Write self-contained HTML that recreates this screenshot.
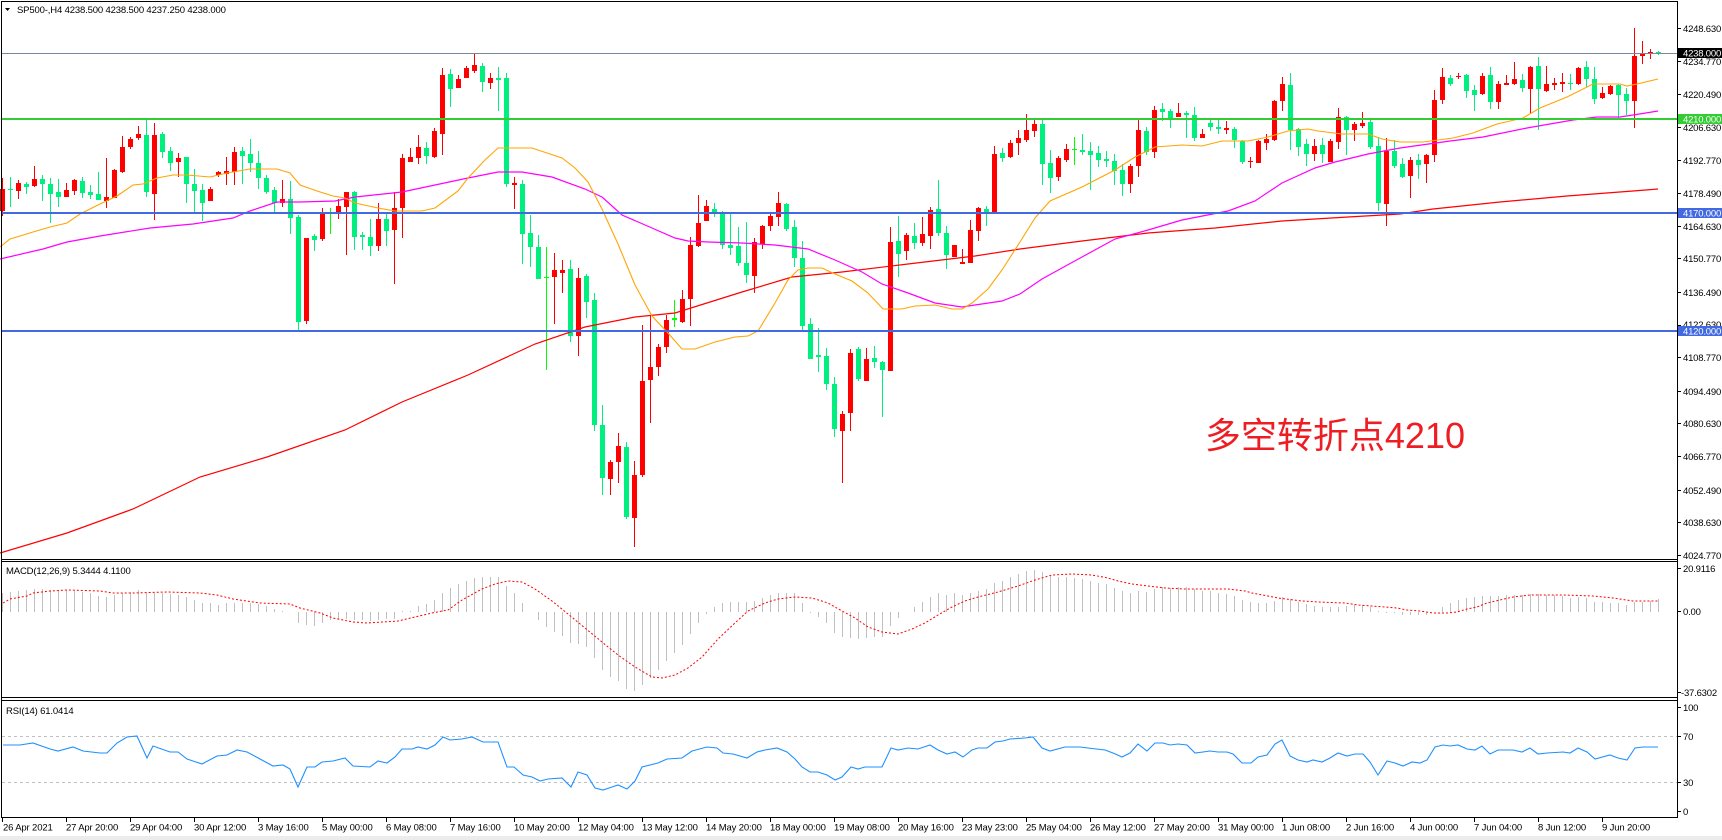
<!DOCTYPE html>
<html><head><meta charset="utf-8"><style>
html,body{margin:0;padding:0;background:#fff;}
svg{display:block;}
.t{font-family:"Liberation Sans","Noto Sans CJK SC",sans-serif;font-size:9.5px;fill:#000;letter-spacing:-0.15px;}
.p{font-family:"Liberation Sans",sans-serif;font-size:9.5px;fill:#000;letter-spacing:-0.2px;}
.w{font-family:"Liberation Sans",sans-serif;font-size:9.5px;fill:#fff;letter-spacing:-0.2px;}
</style></head><body>
<svg width="1722" height="840" viewBox="0 0 1722 840" xmlns="http://www.w3.org/2000/svg">
<rect x="0" y="0" width="1722" height="840" fill="#fff"/>
<rect x="0" y="836" width="1722" height="4" fill="#ececec"/>

<!-- candles -->
<g shape-rendering="crispEdges">
<path fill="#ff0000" d="M0 189h5v22h-5zM2 178h1v38h-1zM16 183h5v8h-5zM18 180h1v19h-1zM32 179h5v7h-5zM34 166h1v21h-1zM64 190h5v7h-5zM66 183h1v14h-1zM72 180h5v11h-5zM74 179h1v16h-1zM104 197h5v4h-5zM106 158h1v50h-1zM112 170h5v28h-5zM114 169h1v29h-1zM120 147h5v25h-5zM122 136h1v37h-1zM128 139h5v8h-5zM130 137h1v12h-1zM136 134h5v4h-5zM138 126h1v14h-1zM152 135h5v59h-5zM154 123h1v97h-1zM176 158h5v4h-5zM178 153h1v24h-1zM208 189h5v12h-5zM210 187h1v14h-1zM216 172h5v3h-5zM218 171h1v6h-1zM224 171h5v3h-5zM226 157h1v28h-1zM232 152h5v20h-5zM234 147h1v38h-1zM280 199h5v4h-5zM282 180h1v27h-1zM304 238h5v83h-5zM306 238h1v86h-1zM320 214h5v25h-5zM322 208h1v33h-1zM336 206h5v6h-5zM338 199h1v20h-1zM344 192h5v15h-5zM346 192h1v63h-1zM376 219h5v27h-5zM378 203h1v48h-1zM392 208h5v22h-5zM394 192h1v92h-1zM400 158h5v50h-5zM402 154h1v84h-1zM408 157h5v5h-5zM410 148h1v14h-1zM416 147h5v11h-5zM418 135h1v29h-1zM432 131h5v26h-5zM434 128h1v30h-1zM440 75h5v59h-5zM442 68h1v87h-1zM456 79h5v9h-5zM458 75h1v13h-1zM464 68h5v10h-5zM466 66h1v12h-1zM472 65h5v6h-5zM474 54h1v19h-1zM488 78h5v5h-5zM490 73h1v16h-1zM512 183h5v2h-5zM514 177h1v32h-1zM552 270h5v7h-5zM554 253h1v71h-1zM560 270h5v3h-5zM562 260h1v33h-1zM576 278h5v58h-5zM578 268h1v88h-1zM608 462h5v17h-5zM610 460h1v35h-1zM616 446h5v16h-5zM618 433h1v50h-1zM632 475h5v43h-5zM634 461h1v86h-1zM640 381h5v94h-5zM642 325h1v152h-1zM648 367h5v13h-5zM650 316h1v107h-1zM656 347h5v20h-5zM658 344h1v32h-1zM664 320h5v27h-5zM666 315h1v38h-1zM680 299h5v23h-5zM682 290h1v33h-1zM688 245h5v54h-5zM690 237h1v89h-1zM696 223h5v23h-5zM698 195h1v52h-1zM704 206h5v15h-5zM706 200h1v21h-1zM752 242h5v34h-5zM754 238h1v55h-1zM760 226h5v18h-5zM762 225h1v24h-1zM768 216h5v10h-5zM770 213h1v18h-1zM776 203h5v14h-5zM778 192h1v34h-1zM840 414h5v17h-5zM842 411h1v72h-1zM848 353h5v60h-5zM850 349h1v82h-1zM864 359h5v22h-5zM866 348h1v33h-1zM888 242h5v129h-5zM890 227h1v144h-1zM904 235h5v16h-5zM906 233h1v27h-1zM920 234h5v9h-5zM922 217h1v29h-1zM928 210h5v26h-5zM930 207h1v42h-1zM952 245h5v12h-5zM954 245h1v12h-1zM960 262h5v2h-5zM962 249h1v15h-1zM968 230h5v33h-5zM970 220h1v43h-1zM976 208h5v23h-5zM978 207h1v34h-1zM992 154h5v58h-5zM994 146h1v66h-1zM1008 143h5v14h-5zM1010 140h1v18h-1zM1016 138h5v5h-5zM1018 130h1v25h-1zM1024 130h5v10h-5zM1026 114h1v28h-1zM1032 124h5v7h-5zM1034 120h1v17h-1zM1056 158h5v19h-5zM1058 156h1v25h-1zM1064 149h5v11h-5zM1066 144h1v18h-1zM1128 166h5v18h-5zM1130 164h1v29h-1zM1136 130h5v36h-5zM1138 120h1v57h-1zM1152 110h5v42h-5zM1154 106h1v52h-1zM1176 113h5v4h-5zM1178 103h1v14h-1zM1200 134h5v4h-5zM1202 129h1v9h-1zM1224 128h5v2h-5zM1226 121h1v13h-1zM1248 161h5v1h-5zM1250 157h1v11h-1zM1256 141h5v22h-5zM1258 140h1v23h-1zM1264 139h5v4h-5zM1266 134h1v16h-1zM1272 101h5v39h-5zM1274 100h1v41h-1zM1280 84h5v17h-5zM1282 77h1v34h-1zM1312 146h5v8h-5zM1314 139h1v22h-1zM1328 141h5v21h-5zM1330 139h1v23h-1zM1336 117h5v25h-5zM1338 108h1v41h-1zM1352 124h5v6h-5zM1354 122h1v19h-1zM1360 123h5v3h-5zM1362 112h1v16h-1zM1384 151h5v53h-5zM1386 138h1v88h-1zM1408 160h5v16h-5zM1410 157h1v41h-1zM1424 155h5v9h-5zM1426 154h1v29h-1zM1432 100h5v55h-5zM1434 90h1v72h-1zM1440 77h5v23h-5zM1442 68h1v36h-1zM1456 76h5v1h-5zM1458 73h1v6h-1zM1480 76h5v18h-5zM1482 73h1v22h-1zM1496 84h5v18h-5zM1498 81h1v28h-1zM1504 83h5v2h-5zM1506 75h1v10h-1zM1512 79h5v5h-5zM1514 62h1v23h-1zM1528 67h5v22h-5zM1530 66h1v48h-1zM1544 84h5v7h-5zM1546 66h1v26h-1zM1552 83h5v2h-5zM1554 78h1v12h-1zM1560 82h5v2h-5zM1562 73h1v19h-1zM1576 68h5v16h-5zM1578 67h1v18h-1zM1600 93h5v5h-5zM1602 87h1v12h-1zM1608 86h5v8h-5zM1610 85h1v10h-1zM1632 56h5v45h-5zM1634 28h1v100h-1zM1640 54h5v2h-5zM1642 41h1v23h-1zM1648 52h5v2h-5zM1650 49h1v10h-1z"/>
<path fill="#00f07f" d="M8 189h5v1h-5zM10 177h1v30h-1zM24 184h5v3h-5zM26 182h1v12h-1zM40 179h5v5h-5zM42 175h1v26h-1zM48 184h5v10h-5zM50 178h1v45h-1zM56 192h5v5h-5zM58 179h1v28h-1zM80 181h5v12h-5zM82 177h1v21h-1zM88 192h5v3h-5zM90 185h1v14h-1zM96 194h5v6h-5zM98 172h1v28h-1zM144 135h5v57h-5zM146 120h1v77h-1zM160 134h5v18h-5zM162 132h1v26h-1zM168 151h5v12h-5zM170 147h1v24h-1zM184 157h5v27h-5zM186 157h1v46h-1zM192 184h5v7h-5zM194 169h1v43h-1zM200 190h5v13h-5zM202 184h1v37h-1zM240 151h5v5h-5zM242 147h1v37h-1zM248 154h5v9h-5zM250 139h1v33h-1zM256 163h5v15h-5zM258 151h1v38h-1zM264 178h5v14h-5zM266 175h1v19h-1zM272 190h5v13h-5zM274 187h1v25h-1zM288 199h5v19h-5zM290 181h1v53h-1zM296 217h5v105h-5zM298 215h1v115h-1zM312 236h5v4h-5zM314 234h1v17h-1zM352 192h5v45h-5zM354 191h1v59h-1zM360 235h5v2h-5zM362 232h1v18h-1zM368 237h5v9h-5zM370 219h1v37h-1zM384 219h5v12h-5zM386 214h1v32h-1zM424 148h5v8h-5zM426 142h1v22h-1zM448 74h5v15h-5zM450 69h1v38h-1zM480 66h5v16h-5zM482 63h1v29h-1zM496 78h5v2h-5zM498 67h1v44h-1zM504 78h5v106h-5zM506 73h1v114h-1zM520 184h5v50h-5zM522 180h1v84h-1zM528 233h5v14h-5zM530 215h1v52h-1zM536 247h5v32h-5zM538 235h1v44h-1zM568 269h5v67h-5zM570 260h1v82h-1zM584 276h5v26h-5zM586 274h1v44h-1zM592 300h5v125h-5zM594 293h1v138h-1zM600 425h5v53h-5zM602 405h1v90h-1zM624 447h5v70h-5zM626 442h1v77h-1zM712 209h5v3h-5zM714 203h1v14h-1zM720 213h5v32h-5zM722 211h1v38h-1zM728 245h5v3h-5zM730 213h1v42h-1zM736 246h5v17h-5zM738 227h1v39h-1zM744 263h5v12h-5zM746 222h1v61h-1zM784 204h5v25h-5zM786 203h1v28h-1zM792 227h5v31h-5zM794 220h1v47h-1zM800 258h5v68h-5zM802 241h1v89h-1zM808 324h5v35h-5zM810 318h1v41h-1zM816 355h5v2h-5zM818 328h1v44h-1zM824 356h5v28h-5zM826 348h1v42h-1zM832 384h5v45h-5zM834 377h1v60h-1zM856 349h5v30h-5zM858 347h1v34h-1zM872 358h5v4h-5zM874 346h1v22h-1zM880 362h5v8h-5zM882 361h1v56h-1zM896 241h5v13h-5zM898 216h1v61h-1zM912 236h5v7h-5zM914 223h1v26h-1zM936 209h5v24h-5zM938 180h1v56h-1zM944 233h5v22h-5zM946 226h1v43h-1zM984 209h5v3h-5zM986 206h1v20h-1zM1000 153h5v5h-5zM1002 148h1v14h-1zM1040 124h5v40h-5zM1042 120h1v65h-1zM1048 163h5v15h-5zM1050 150h1v43h-1zM1080 150h5v2h-5zM1082 134h1v21h-1zM1088 151h5v4h-5zM1090 142h1v48h-1zM1096 153h5v7h-5zM1098 146h1v21h-1zM1104 159h5v2h-5zM1106 151h1v16h-1zM1112 161h5v10h-5zM1114 154h1v31h-1zM1120 170h5v14h-5zM1122 164h1v32h-1zM1144 131h5v21h-5zM1146 127h1v28h-1zM1160 109h5v3h-5zM1162 103h1v18h-1zM1168 111h5v8h-5zM1170 109h1v19h-1zM1184 113h5v2h-5zM1186 111h1v27h-1zM1192 115h5v23h-5zM1194 107h1v34h-1zM1208 123h5v4h-5zM1210 120h1v11h-1zM1216 127h5v2h-5zM1218 120h1v14h-1zM1232 129h5v11h-5zM1234 127h1v21h-1zM1240 141h5v21h-5zM1242 140h1v24h-1zM1288 85h5v45h-5zM1290 73h1v77h-1zM1296 129h5v18h-5zM1298 128h1v28h-1zM1304 144h5v10h-5zM1306 139h1v27h-1zM1320 145h5v9h-5zM1322 138h1v25h-1zM1344 117h5v13h-5zM1346 116h1v39h-1zM1368 122h5v25h-5zM1370 120h1v29h-1zM1376 146h5v57h-5zM1378 137h1v74h-1zM1392 151h5v15h-5zM1394 140h1v28h-1zM1400 164h5v13h-5zM1402 158h1v20h-1zM1416 160h5v5h-5zM1418 154h1v25h-1zM1448 78h5v6h-5zM1450 75h1v11h-1zM1464 75h5v16h-5zM1466 74h1v24h-1zM1472 90h5v5h-5zM1474 85h1v26h-1zM1488 75h5v27h-5zM1490 67h1v42h-1zM1520 80h5v8h-5zM1522 74h1v18h-1zM1536 66h5v23h-5zM1538 57h1v73h-1zM1568 83h5v1h-5zM1570 74h1v16h-1zM1584 67h5v12h-5zM1586 61h1v26h-1zM1592 79h5v20h-5zM1594 67h1v37h-1zM1616 85h5v10h-5zM1618 84h1v34h-1zM1624 94h5v7h-5zM1626 88h1v27h-1zM1656 52h5v1h-5zM1658 51h1v4h-1z"/>
<path fill="#00ff00" d="M328 213h5v1h-5zM330 208h1v26h-1zM544 277h5v1h-5zM546 247h1v123h-1zM672 318h5v2h-5zM674 300h1v27h-1zM1072 149h5v1h-5zM1074 137h1v28h-1z"/>
</g>

<!-- moving averages -->
<polyline fill="none" stroke="#ff0000" stroke-width="1.2" points="0,553 67,533 133,509 200,477 267,457 345,430 402,402 468,375 535,344 585,327 635,317 675,313 742,292 792,277 842,272 908,264 975,256 1020,249 1082,241 1148,233 1215,228 1282,221 1348,217 1400,214 1433,209 1500,202 1567,196 1633,191 1658,189"/>
<polyline fill="none" stroke="#ff00ff" stroke-width="1.2" points="0,259 43,249 67,242 100,236 150,228 193,224 233,218 250,211 277,202 300,202 335,201 355,197 402,192 435,185 468,178 498,172 522,172 552,177 585,189 602,197 622,215 652,228 675,238 688,241 708,242 742,243 775,245 808,249 835,260 862,272 882,284 908,293 935,303 962,307 975,305 1002,301 1020,294 1042,279 1082,257 1115,239 1148,230 1182,220 1228,211 1255,201 1282,183 1315,168 1335,162 1368,154 1400,148 1450,141 1483,137 1527,128 1573,120 1597,117 1620,117 1633,115 1658,111"/>
<polyline fill="none" stroke="#ffa500" stroke-width="1.1" points="0,247 10,239 20,236 33,232 50,227 67,223 80,214 100,204 117,196 133,185 143,184 157,178 173,175 187,175 210,177 227,173 250,169 277,169 290,173 300,185 317,191 333,196 345,198 355,203 378,208 395,211 422,211 435,208 458,191 468,178 485,160 498,148 532,148 562,158 575,168 588,182 602,209 618,244 635,285 652,316 668,333 682,349 695,349 715,342 735,337 748,336 758,331 775,303 788,280 798,270 808,268 822,268 835,274 852,281 868,293 883,309 902,309 915,306 935,305 952,309 962,309 972,303 988,289 1002,270 1020,242 1035,218 1050,201 1082,187 1115,170 1135,157 1155,147 1182,145 1202,146 1222,141 1248,141 1268,137 1288,131 1308,129 1318,131 1342,134 1368,134 1382,139 1400,142 1423,142 1438,140 1453,138 1473,133 1497,124 1523,118 1540,108 1567,97 1593,84 1620,84 1627,86 1637,84 1658,79"/>

<!-- horizontal levels -->
<g shape-rendering="crispEdges">
<rect x="2" y="53" width="1675" height="1" fill="#778899"/>
<rect x="2" y="118" width="1675" height="2" fill="#32cd32"/>
<rect x="2" y="212" width="1675" height="2" fill="#4169e1"/>
<rect x="2" y="330" width="1675" height="2" fill="#4169e1"/>
</g>

<!-- annotation -->
<text x="1465" y="448" text-anchor="end" font-family="'Liberation Sans','Noto Sans CJK SC',sans-serif" font-size="36" fill="#ee1d24">多空转折点4210</text>

<!-- title -->
<polygon points="5,8 10,8 7.5,11" fill="#000"/>
<text x="17" y="13" class="t">SP500-,H4  4238.500 4238.500 4237.250 4238.000</text>

<!-- MACD -->
<path stroke="#c0c0c0" stroke-width="1" fill="none" shape-rendering="crispEdges" d="M2.5 612V593M10.5 612V592M18.5 612V591M26.5 612V590M34.5 612V589M42.5 612V589M50.5 612V590M58.5 612V590M66.5 612V590M74.5 612V591M82.5 612V592M90.5 612V593M98.5 612V596M106.5 612V597M114.5 612V595M122.5 612V593M130.5 612V592M138.5 612V590M146.5 612V593M154.5 612V593M162.5 612V593M170.5 612V594M178.5 612V595M186.5 612V597M194.5 612V600M202.5 612V603M210.5 612V603M218.5 612V605M226.5 612V603M234.5 612V603M242.5 612V603M250.5 612V603M258.5 612V604M266.5 612V606M274.5 612V609M282.5 612V611M298.5 612V623M306.5 612V625M314.5 612V626M322.5 612V623M330.5 612V620M338.5 612V619M346.5 612V619M354.5 612V620M362.5 612V620M370.5 612V621M378.5 612V620M386.5 612V619M394.5 612V619M402.5 612V611M410.5 612V611M418.5 612V606M426.5 612V604M434.5 612V600M442.5 612V593M450.5 612V588M458.5 612V584M466.5 612V581M474.5 612V578M482.5 612V577M490.5 612V577M498.5 612V577M506.5 612V586M514.5 612V593M522.5 612V603M538.5 612V620M546.5 612V627M554.5 612V632M562.5 612V636M570.5 612V643M578.5 612V644M586.5 612V647M594.5 612V658M602.5 612V670M610.5 612V677M618.5 612V681M626.5 612V689M634.5 612V691M642.5 612V685M650.5 612V678M658.5 612V670M666.5 612V661M674.5 612V653M682.5 612V645M690.5 612V634M698.5 612V623M706.5 612V614M714.5 612V607M722.5 612V603M730.5 612V602M738.5 612V602M746.5 612V602M754.5 612V601M762.5 612V598M770.5 612V595M778.5 612V593M786.5 612V593M794.5 612V593M802.5 612V603M810.5 612V613M818.5 612V617M826.5 612V623M834.5 612V633M842.5 612V637M850.5 612V638M858.5 612V639M866.5 612V638M874.5 612V637M882.5 612V637M890.5 612V626M898.5 612V618M914.5 612V607M922.5 612V602M930.5 612V597M938.5 612V593M946.5 612V595M954.5 612V593M962.5 612V595M970.5 612V593M978.5 612V591M986.5 612V589M994.5 612V583M1002.5 612V581M1010.5 612V577M1018.5 612V574M1026.5 612V571M1034.5 612V570M1042.5 612V572M1050.5 612V575M1058.5 612V577M1066.5 612V577M1074.5 612V578M1082.5 612V579M1090.5 612V581M1098.5 612V583M1106.5 612V584M1114.5 612V588M1122.5 612V591M1130.5 612V593M1138.5 612V591M1146.5 612V592M1154.5 612V589M1162.5 612V587M1170.5 612V588M1178.5 612V587M1186.5 612V587M1194.5 612V589M1202.5 612V591M1210.5 612V591M1218.5 612V593M1226.5 612V594M1234.5 612V596M1242.5 612V600M1250.5 612V602M1258.5 612V603M1266.5 612V603M1274.5 612V601M1282.5 612V597M1290.5 612V599M1298.5 612V602M1306.5 612V604M1314.5 612V606M1322.5 612V607M1330.5 612V607M1338.5 612V607M1346.5 612V606M1354.5 612V605M1362.5 612V605M1370.5 612V607M1378.5 612V611M1386.5 612V613M1394.5 612V613M1402.5 612V615M1410.5 612V615M1418.5 612V615M1426.5 612V615M1442.5 612V607M1450.5 612V603M1458.5 612V600M1466.5 612V598M1474.5 612V597M1482.5 612V596M1490.5 612V596M1498.5 612V596M1506.5 612V595M1514.5 612V595M1522.5 612V595M1530.5 612V594M1538.5 612V594M1546.5 612V595M1554.5 612V595M1562.5 612V596M1570.5 612V598M1578.5 612V597M1586.5 612V598M1594.5 612V602M1602.5 612V602M1610.5 612V603M1618.5 612V603M1626.5 612V605M1634.5 612V602M1642.5 612V602M1650.5 612V601M1658.5 612V599"/>
<polyline fill="none" stroke="#ff0000" stroke-width="1" stroke-dasharray="2,2" points="3,603 10,599 27,596 33,593 50,591 67,590 100,591 113,593 133,593 167,592 200,593 217,595 233,599 260,603 290,604 300,608 320,613 333,618 353,622 367,623 398,621 415,617 432,613 448,610 462,600 482,589 495,584 508,581 522,582 535,589 552,601 568,614 585,628 602,642 618,655 635,667 652,677 662,678 675,675 688,668 702,657 718,639 735,623 748,611 765,603 778,599 795,597 812,598 828,603 842,611 855,618 868,627 882,632 898,634 912,629 925,623 938,615 952,607 965,601 978,597 998,592 1018,586 1035,580 1052,575 1072,574 1092,575 1108,578 1118,581 1132,584 1148,586 1165,588 1185,589 1205,589 1228,589 1245,591 1252,593 1278,598 1302,601 1318,602 1345,603 1358,605 1385,607 1397,608 1407,610 1420,611 1433,613 1447,613 1457,612 1467,609 1477,607 1487,603 1500,600 1513,597 1530,595 1563,595 1593,596 1613,598 1633,601 1658,601"/>
<text x="6" y="574" class="t">MACD(12,26,9) 5.3444 4.1100</text>

<!-- RSI -->
<g shape-rendering="crispEdges">
<line x1="2" y1="736.5" x2="1677" y2="736.5" stroke="#c0c0c0" stroke-width="1" stroke-dasharray="3,3"/>
<line x1="2" y1="782.5" x2="1677" y2="782.5" stroke="#c0c0c0" stroke-width="1" stroke-dasharray="3,3"/>
</g>
<polyline fill="none" stroke="#1e90ff" stroke-width="1.1" points="3,745 20,745 33,743 50,749 58,751 73,747 83,751 100,753 107,753 117,743 127,737 137,736 147,758 153,746 170,752 178,752 187,759 193,761 202,764 217,756 227,755 237,750 247,752 260,759 273,766 283,765 290,769 298,787 307,767 315,767 322,762 333,761 345,758 353,766 370,767 378,761 387,763 395,757 402,749 412,749 418,747 427,749 435,745 443,737 450,740 462,739 472,737 483,742 498,742 507,767 514,767 523,775 532,777 540,781 548,779 562,778 571,787 578,772 587,775 595,788 603,790 612,787 618,785 627,789 635,781 642,767 658,763 667,759 682,758 692,751 707,747 717,748 723,753 733,754 747,758 757,752 765,750 777,748 787,752 795,759 802,767 810,772 818,772 827,775 835,780 842,777 851,767 858,769 865,767 882,767 891,748 898,750 908,748 918,749 930,745 938,750 947,754 955,752 963,757 972,750 978,748 987,748 995,742 1003,741 1010,739 1025,738 1033,737 1042,748 1050,751 1065,747 1080,747 1088,748 1105,750 1113,753 1122,757 1130,753 1138,744 1147,751 1155,743 1163,743 1170,745 1178,744 1187,745 1195,753 1203,752 1210,751 1218,752 1227,752 1233,754 1242,763 1251,763 1258,757 1267,755 1275,744 1282,740 1290,756 1298,760 1307,762 1313,760 1322,762 1330,758 1338,753 1347,756 1355,754 1363,754 1370,762 1378,775 1387,761 1395,763 1403,766 1412,762 1420,763 1427,760 1435,747 1443,745 1450,746 1458,745 1467,749 1475,750 1482,746 1490,754 1498,750 1513,750 1522,752 1530,748 1538,754 1547,753 1563,752 1570,753 1578,748 1587,752 1595,759 1610,755 1618,758 1627,760 1635,748 1643,747 1658,747"/>
<text x="6" y="714" class="t">RSI(14) 61.0414</text>

<!-- frames -->
<g stroke="#000" stroke-width="1" shape-rendering="crispEdges" fill="none">
<line x1="1.5" y1="1" x2="1.5" y2="818"/>
<line x1="1677.5" y1="1" x2="1677.5" y2="818"/>
<line x1="1" y1="1.5" x2="1678" y2="1.5"/>
<line x1="1" y1="559.5" x2="1678" y2="559.5"/>
<line x1="1" y1="561.5" x2="1678" y2="561.5"/>
<line x1="1" y1="697.5" x2="1678" y2="697.5"/>
<line x1="1" y1="700.5" x2="1678" y2="700.5"/>
<line x1="1" y1="817.5" x2="1678" y2="817.5"/>
<path d="M1678 28.5h3M1678 61.5h3M1678 94.5h3M1678 127.5h3M1678 160.5h3M1678 193.5h3M1678 226.5h3M1678 258.5h3M1678 292.5h3M1678 325.5h3M1678 357.5h3M1678 391.5h3M1678 423.5h3M1678 456.5h3M1678 490.5h3M1678 522.5h3M1678 555.5h3M1678 568.5h3M1678 611.5h3M1678 692.5h3M1678 707.5h3M1678 736.5h3M1678 782.5h3M1678 811.5h3"/>
<path d="M2.5 818v4M66.5 818v4M130.5 818v4M194.5 818v4M258.5 818v4M322.5 818v4M386.5 818v4M450.5 818v4M514.5 818v4M578.5 818v4M642.5 818v4M706.5 818v4M770.5 818v4M834.5 818v4M898.5 818v4M962.5 818v4M1026.5 818v4M1090.5 818v4M1154.5 818v4M1218.5 818v4M1282.5 818v4M1346.5 818v4M1410.5 818v4M1474.5 818v4M1538.5 818v4M1602.5 818v4"/>
</g>

<!-- price axis labels -->
<g class="p">
<text x="1683" y="32">4248.630</text>
<text x="1683" y="65">4234.770</text>
<text x="1683" y="98">4220.490</text>
<text x="1683" y="131">4206.630</text>
<text x="1683" y="164">4192.770</text>
<text x="1683" y="197">4178.490</text>
<text x="1683" y="230">4164.630</text>
<text x="1683" y="262">4150.770</text>
<text x="1683" y="296">4136.490</text>
<text x="1683" y="328">4122.630</text>
<text x="1683" y="361">4108.770</text>
<text x="1683" y="395">4094.490</text>
<text x="1683" y="427">4080.630</text>
<text x="1683" y="460">4066.770</text>
<text x="1683" y="494">4052.490</text>
<text x="1683" y="526">4038.630</text>
<text x="1683" y="559">4024.770</text>
<text x="1683" y="572">20.9116</text>
<text x="1683" y="615">0.00</text>
<text x="1681" y="696">-37.6302</text>
<text x="1683" y="711">100</text>
<text x="1683" y="740">70</text>
<text x="1683" y="786">30</text>
<text x="1683" y="815">0</text>
</g>
<g shape-rendering="crispEdges">
<rect x="1678" y="48" width="44" height="10" fill="#000"/>
<rect x="1678" y="114" width="44" height="10" fill="#32cd32"/>
<rect x="1678" y="208" width="44" height="10" fill="#4169e1"/>
<rect x="1678" y="326" width="44" height="10" fill="#4169e1"/>
</g>
<g class="w">
<text x="1683" y="56.5">4238.000</text>
<text x="1683" y="122.5">4210.000</text>
<text x="1683" y="216.5">4170.000</text>
<text x="1683" y="334.5">4120.000</text>
</g>

<!-- time axis labels -->
<g class="t">
<text x="3" y="830.5">26 Apr 2021</text>
<text x="66" y="830.5">27 Apr 20:00</text>
<text x="130" y="830.5">29 Apr 04:00</text>
<text x="194" y="830.5">30 Apr 12:00</text>
<text x="258" y="830.5">3 May 16:00</text>
<text x="322" y="830.5">5 May 00:00</text>
<text x="386" y="830.5">6 May 08:00</text>
<text x="450" y="830.5">7 May 16:00</text>
<text x="514" y="830.5">10 May 20:00</text>
<text x="578" y="830.5">12 May 04:00</text>
<text x="642" y="830.5">13 May 12:00</text>
<text x="706" y="830.5">14 May 20:00</text>
<text x="770" y="830.5">18 May 00:00</text>
<text x="834" y="830.5">19 May 08:00</text>
<text x="898" y="830.5">20 May 16:00</text>
<text x="962" y="830.5">23 May 23:00</text>
<text x="1026" y="830.5">25 May 04:00</text>
<text x="1090" y="830.5">26 May 12:00</text>
<text x="1154" y="830.5">27 May 20:00</text>
<text x="1218" y="830.5">31 May 00:00</text>
<text x="1282" y="830.5">1 Jun 08:00</text>
<text x="1346" y="830.5">2 Jun 16:00</text>
<text x="1410" y="830.5">4 Jun 00:00</text>
<text x="1474" y="830.5">7 Jun 04:00</text>
<text x="1538" y="830.5">8 Jun 12:00</text>
<text x="1602" y="830.5">9 Jun 20:00</text>
</g>
</svg>
</body></html>
